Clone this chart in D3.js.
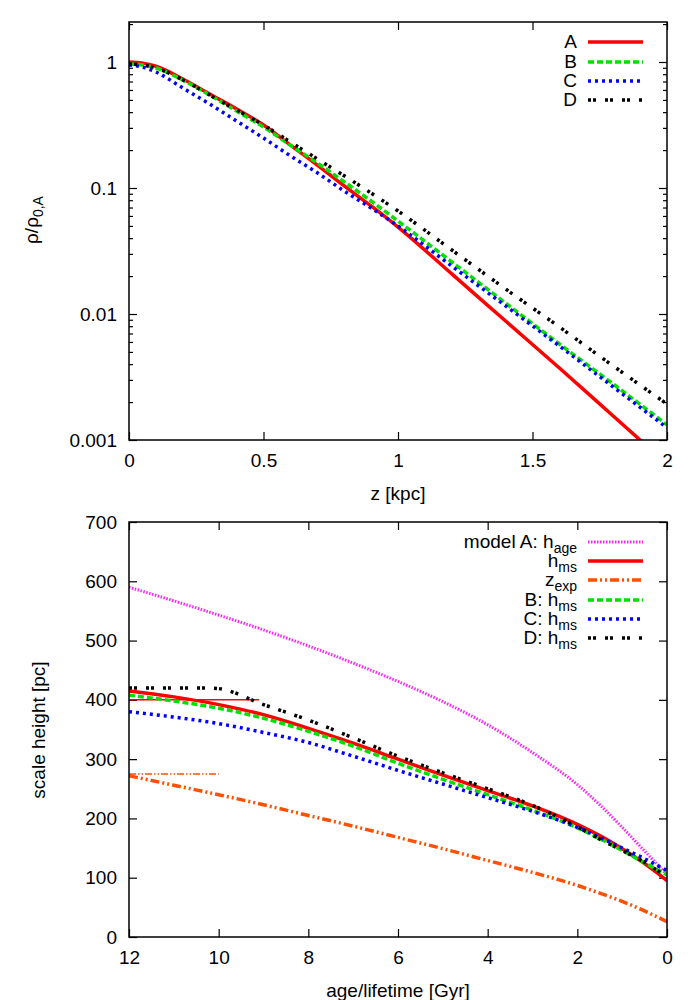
<!DOCTYPE html>
<html>
<head>
<meta charset="utf-8">
<script src="https://cdn.jsdelivr.net/npm/d3@7"></script>
<style>
  body { margin: 0; background: #fff; }
  svg { display: block; font-family: "Liberation Sans", Arial, sans-serif; }
  .axis path { display: none; }
  .axis line { stroke: #000; stroke-width: 1.2; }
  .axis text { font-size: 19px; fill: #000; }
</style>
</head>
<body>
<script>
// ---- top panel: density profiles, rho / rho0,A vs z [kpc]
var zVals = [0, 0.05, 0.1, 0.2, 0.3, 0.4, 0.5, 0.6, 0.7, 0.8, 0.9, 1.0, 1.2, 1.4, 1.6, 1.8, 2.0];
var rhoA = [1.0, 0.98, 0.925, 0.733, 0.557, 0.424, 0.316, 0.219, 0.152, 0.104, 0.072, 0.049, 0.0208, 0.0088, 0.00373, 0.00155, 0.000645];
var rhoB = [0.964, 0.947, 0.896, 0.72, 0.547, 0.408, 0.305, 0.219, 0.158, 0.112, 0.0788, 0.0547, 0.0259, 0.0122, 0.00578, 0.00278, 0.00132];
var rhoC = [0.947, 0.913, 0.833, 0.622, 0.464, 0.340, 0.249, 0.18, 0.132, 0.0946, 0.0694, 0.0499, 0.024, 0.0116, 0.00557, 0.00264, 0.00125];
var rhoD = [0.964, 0.947, 0.896, 0.72, 0.547, 0.416, 0.316, 0.232, 0.170, 0.125, 0.0912, 0.0657, 0.0322, 0.0158, 0.00789, 0.00387, 0.00193];
var topXTicks = [0, 0.5, 1, 1.5, 2];
var topYTicks = [0.001, 0.01, 0.1, 1];
var topYLabels = ["0.001", "0.01", "0.1", "1"];

// ---- bottom panel: scale heights [pc] vs age/lifetime [Gyr]
var ages = [12, 11, 10, 9, 8, 7, 6, 5, 4, 3, 2, 1.5, 1, 0.5, 0.25, 0];
var hAgeA = [590, 567, 543, 518, 491, 462, 431, 397, 358, 311, 257, 223, 185, 145, 125, 105];
var hmsA = [415, 405, 392, 375, 352, 327, 300, 273, 247, 221, 190, 171, 149, 124, 110, 95];
var zexpA = [272, 256, 240, 223, 205, 187, 168, 149, 129, 109, 87, 74, 60, 44, 35, 26];
var hmsB = [408, 398, 386, 369, 347, 322, 293, 266, 240, 214, 184, 166, 146, 125, 115, 105];
var hmsC = [380, 371, 360, 345, 328, 305, 281, 258, 235, 212, 185, 168, 150, 132, 122, 112];
var agesD = [12, 11, 10.2, 10, 9, 8, 7, 6, 5, 4, 3, 2, 1.5, 1, 0.5, 0.25, 0];
var hmsD = [420, 420, 420, 419, 392, 366, 336, 305, 277, 250, 222, 186, 165, 146, 126, 114, 100];
// short reference segments at the left
var hmsALevel = { ages: [12, 9.1], h: [400, 400] };
var zexpLevel = { ages: [12, 10], h: [275, 275] };
var botXTicks = [12, 10, 8, 6, 4, 2, 0];
var botYTicks = [0, 100, 200, 300, 400, 500, 600, 700];

var svg = d3.select("body").append("svg")
    .attr("width", 700)
    .attr("height", 1000);

var left = 129, right = 667;

function frame(g, x0, y0, x1, y1) {
  g.append("rect")
      .attr("x", x0).attr("y", y0)
      .attr("width", x1 - x0).attr("height", y1 - y0)
      .attr("fill", "none").attr("stroke", "#000").attr("stroke-width", 1.5);
}

function seriesLine(g, xs, ys, xScale, yScale, style, clipId) {
  var pts = xs.map(function(d, i) { return [xScale(d), yScale(ys[i])]; });
  // monotone curve wants increasing pixel x
  pts.sort(function(a, b) { return a[0] - b[0]; });
  var line = d3.line().curve(d3.curveMonotoneX);
  g.append("path")
      .attr("clip-path", "url(#" + clipId + ")")
      .attr("d", line(pts))
      .attr("fill", "none")
      .attr("stroke", style.color)
      .attr("stroke-width", style.width)
      .attr("stroke-dasharray", style.dash || null)
      .attr("stroke-linecap", "butt");
}

function legendRow(g, y, parts, style) {
  var t = g.append("text")
      .attr("x", 577).attr("y", y + 6)
      .attr("text-anchor", "end")
      .attr("font-size", 19);
  parts.forEach(function(p) {
    if (p.sub) {
      t.append("tspan").attr("font-size", 14).attr("dy", 5).text(p.sub);
    } else {
      t.append("tspan").text(p.text);
    }
  });
  g.append("line")
      .attr("x1", 588).attr("x2", 643)
      .attr("y1", y).attr("y2", y)
      .attr("stroke", style.color)
      .attr("stroke-width", style.width)
      .attr("stroke-dasharray", style.dash || null);
}

var sA = { color: "#ff0000", width: 3.5 };
var sB = { color: "#00e000", width: 3.5, dash: "6,3" };
var sC = { color: "#0000ff", width: 3.5, dash: "3,4" };
var sD = { color: "#000000", width: 3.5, dash: "3,2,3,9" };
var sAge = { color: "#ff22ff", width: 3, dash: "1.5,1.5" };
var sZexp = { color: "#ff4f00", width: 3.5, dash: "9,3,2,3,2,3" };

// ================= top panel =================
var xTop = d3.scaleLinear().domain([0, 2]).range([left, right]);
var yTop = d3.scaleLog().domain([0.001, 1]).range([440, 62]);
var topY0 = 22;
var topPanel = svg.append("g");

svg.append("clipPath").attr("id", "clipTop")
  .append("rect").attr("x", left).attr("y", topY0)
  .attr("width", right - left).attr("height", 440 - topY0);

var minorTop = [];
[0.001, 0.01, 0.1, 1].forEach(function(dec) {
  for (var k = 2; k <= 9; k++) {
    if (yTop(dec * k) >= topY0) minorTop.push(dec * k);
  }
});

topPanel.append("g").attr("class", "axis")
    .attr("transform", "translate(0,440)")
    .call(d3.axisBottom(xTop).tickValues(topXTicks).tickSize(-8).tickPadding(14)
      .tickFormat(d3.format("")));
topPanel.append("g").attr("class", "axis")
    .attr("transform", "translate(0," + topY0 + ")")
    .call(d3.axisTop(xTop).tickValues(topXTicks).tickSize(-8).tickFormat(""));
topPanel.append("g").attr("class", "axis")
    .attr("transform", "translate(" + left + ",0)")
    .call(d3.axisLeft(yTop).tickValues(topYTicks).tickSize(-8).tickPadding(12)
      .tickFormat(function(d, i) { return topYLabels[i]; }));
topPanel.append("g").attr("class", "axis")
    .attr("transform", "translate(" + left + ",0)")
    .call(d3.axisLeft(yTop).tickValues(minorTop).tickSize(-4).tickFormat(""));
topPanel.append("g").attr("class", "axis")
    .attr("transform", "translate(" + right + ",0)")
    .call(d3.axisRight(yTop).tickValues(topYTicks).tickSize(-8).tickFormat(""));
topPanel.append("g").attr("class", "axis")
    .attr("transform", "translate(" + right + ",0)")
    .call(d3.axisRight(yTop).tickValues(minorTop).tickSize(-4).tickFormat(""));

seriesLine(topPanel, zVals, rhoA, xTop, yTop, sA, "clipTop");
seriesLine(topPanel, zVals, rhoB, xTop, yTop, sB, "clipTop");
seriesLine(topPanel, zVals, rhoC, xTop, yTop, sC, "clipTop");
seriesLine(topPanel, zVals, rhoD, xTop, yTop, sD, "clipTop");
frame(topPanel, left, topY0, right, 440);

legendRow(topPanel, 42, [{ text: "A" }], sA);
legendRow(topPanel, 62, [{ text: "B" }], sB);
legendRow(topPanel, 81, [{ text: "C" }], sC);
legendRow(topPanel, 100, [{ text: "D" }], sD);

topPanel.append("text")
    .attr("x", (left + right) / 2).attr("y", 500)
    .attr("text-anchor", "middle").attr("font-size", 19)
    .text("z [kpc]");
var yt = topPanel.append("text")
    .attr("transform", "translate(38,220) rotate(-90)")
    .attr("text-anchor", "middle").attr("font-size", 19);
yt.append("tspan").text("\u03c1/\u03c1");
yt.append("tspan").attr("font-size", 14).attr("dy", 5).text("0,A");

// ================= bottom panel =================
var xBot = d3.scaleLinear().domain([12, 0]).range([left, right]);
var yBot = d3.scaleLinear().domain([0, 700]).range([937, 522]);
var botPanel = svg.append("g");

svg.append("clipPath").attr("id", "clipBot")
  .append("rect").attr("x", left).attr("y", 522)
  .attr("width", right - left).attr("height", 937 - 522);

botPanel.append("g").attr("class", "axis")
    .attr("transform", "translate(0,937)")
    .call(d3.axisBottom(xBot).tickValues(botXTicks).tickSize(-8).tickPadding(14));
botPanel.append("g").attr("class", "axis")
    .attr("transform", "translate(0,522)")
    .call(d3.axisTop(xBot).tickValues(botXTicks).tickSize(-8).tickFormat(""));
botPanel.append("g").attr("class", "axis")
    .attr("transform", "translate(" + left + ",0)")
    .call(d3.axisLeft(yBot).tickValues(botYTicks).tickSize(-8).tickPadding(12));
botPanel.append("g").attr("class", "axis")
    .attr("transform", "translate(" + right + ",0)")
    .call(d3.axisRight(yBot).tickValues(botYTicks).tickSize(-8).tickFormat(""));

seriesLine(botPanel, ages, hAgeA, xBot, yBot, sAge, "clipBot");
seriesLine(botPanel, ages, hmsA, xBot, yBot, sA, "clipBot");
seriesLine(botPanel, hmsALevel.ages, hmsALevel.h, xBot, yBot, { color: "#ff0000", width: 1.5 }, "clipBot");
seriesLine(botPanel, ages, zexpA, xBot, yBot, sZexp, "clipBot");
seriesLine(botPanel, zexpLevel.ages, zexpLevel.h, xBot, yBot, { color: "#ff4f00", width: 1.5, dash: "7,2,1.5,2,1.5,2" }, "clipBot");
seriesLine(botPanel, ages, hmsB, xBot, yBot, sB, "clipBot");
seriesLine(botPanel, ages, hmsC, xBot, yBot, sC, "clipBot");
seriesLine(botPanel, agesD, hmsD, xBot, yBot, sD, "clipBot");
frame(botPanel, left, 522, right, 937);

legendRow(botPanel, 542, [{ text: "model A: h" }, { sub: "age" }], sAge);
legendRow(botPanel, 561, [{ text: "h" }, { sub: "ms" }], sA);
legendRow(botPanel, 580, [{ text: "z" }, { sub: "exp" }], sZexp);
legendRow(botPanel, 600, [{ text: "B: h" }, { sub: "ms" }], sB);
legendRow(botPanel, 619, [{ text: "C: h" }, { sub: "ms" }], sC);
legendRow(botPanel, 638, [{ text: "D: h" }, { sub: "ms" }], sD);

botPanel.append("text")
    .attr("x", (left + right) / 2).attr("y", 997)
    .attr("text-anchor", "middle").attr("font-size", 19)
    .text("age/lifetime [Gyr]");
botPanel.append("text")
    .attr("transform", "translate(45,730) rotate(-90)")
    .attr("text-anchor", "middle").attr("font-size", 19)
    .text("scale height [pc]");
</script>
</body>
</html>
